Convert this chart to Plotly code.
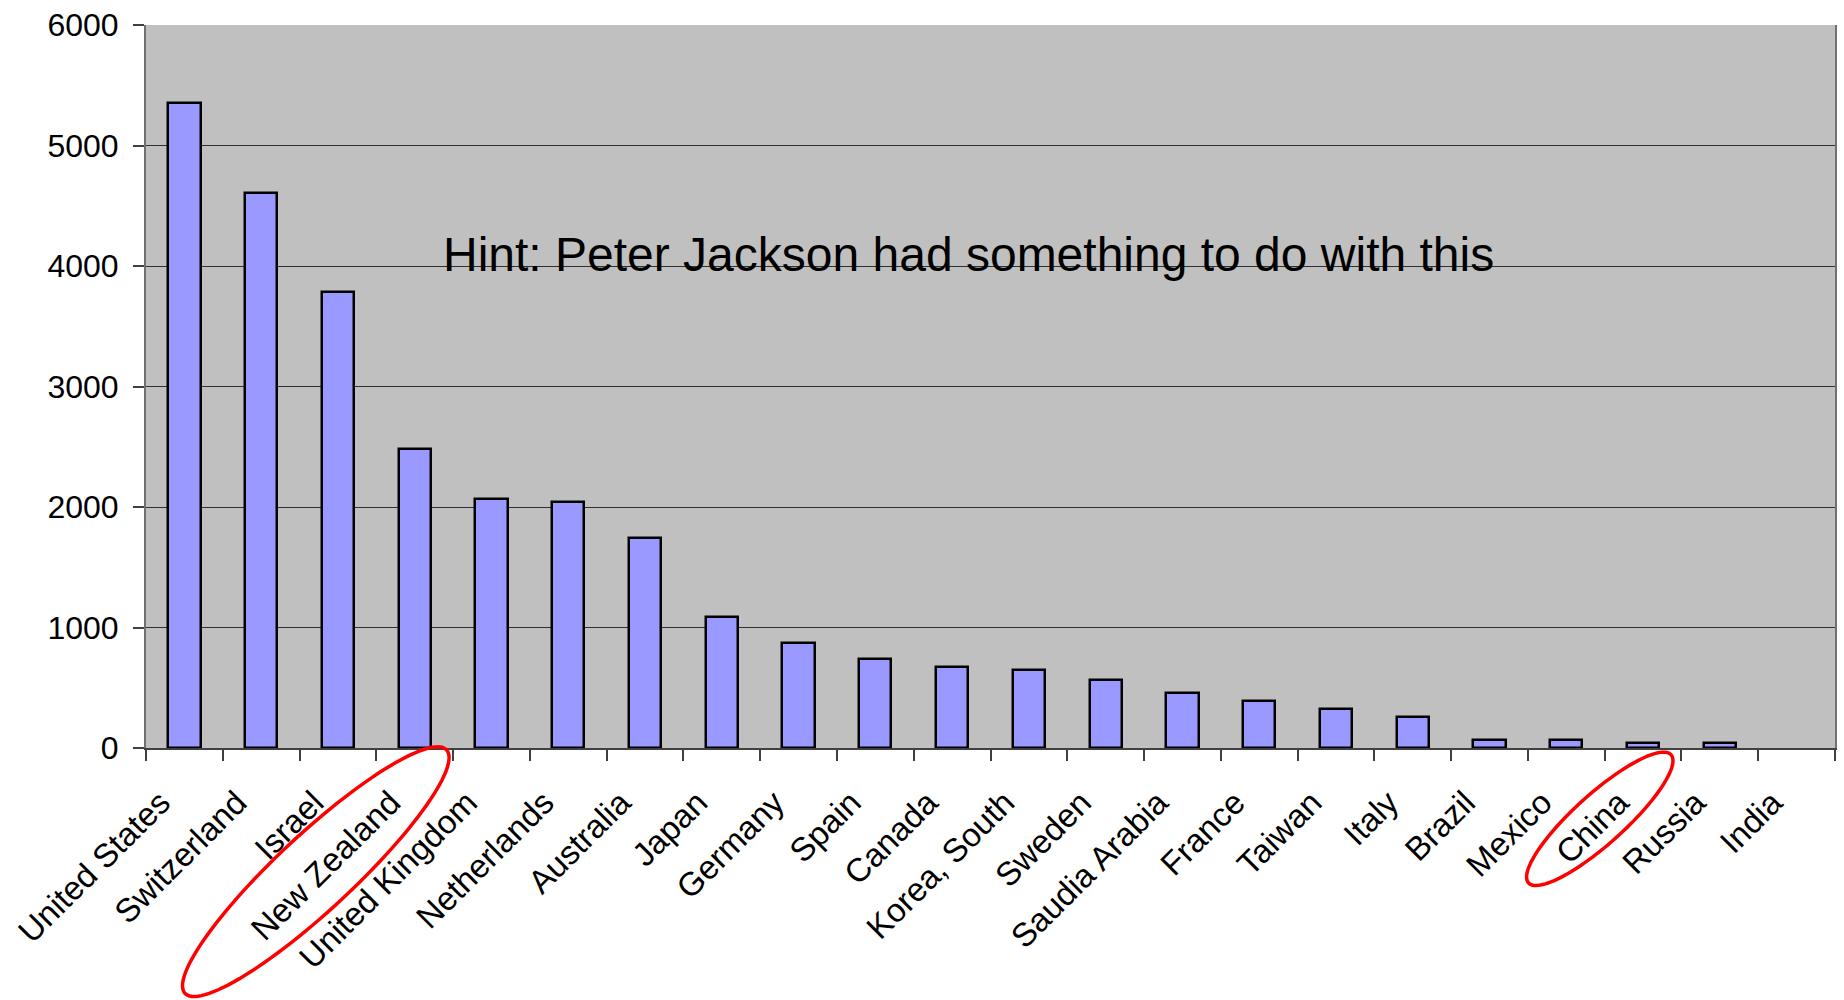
import numpy as np
import plotly.graph_objects as go

# Category labels (left to right) and bar heights
countries = [
    "United States", "Switzerland", "Israel", "New Zealand", "United Kingdom",
    "Netherlands", "Australia", "Japan", "Germany", "Spain", "Canada",
    "Korea, South", "Sweden", "Saudia Arabia", "France", "Taiwan", "Italy",
    "Brazil", "Mexico", "China", "Russia", "India",
]
values = [
    5350, 4610, 3785, 2480, 2065,
    2045, 1745, 1090, 870, 740, 670,
    650, 565, 455, 390, 325, 260,
    65, 65, 45, 45, 0,
]
y_ticks = [0, 1000, 2000, 3000, 4000, 5000, 6000]

W, H = 1844, 1000
M_L, M_R, M_T, M_B = 146, 7, 23, 252
PW, PH = W - M_L - M_R, H - M_T - M_B


def px_to_paper(px, py):
    return (px - M_L) / PW, (H - M_B - py) / PH


def ellipse_path(cx, cy, a, b, angle_deg, n=120):
    """Rotated ellipse given in pixel space, returned as an SVG path in paper units."""
    t = np.linspace(0, 2 * np.pi, n)
    th = np.deg2rad(angle_deg)
    xs = cx + a * np.cos(t) * np.cos(th) - b * np.sin(t) * np.sin(th)
    ys = cy - (a * np.cos(t) * np.sin(th) + b * np.sin(t) * np.cos(th))
    pts = [px_to_paper(x, y) for x, y in zip(xs, ys)]
    return "M " + " L ".join(f"{x:.5f},{y:.5f}" for x, y in pts) + " Z"


FONT = "Liberation Sans, Arial, sans-serif"

# empty categories get no outline so nothing is drawn for them
outline_widths = [2.5 if v > 0 else 0 for v in values]

fig = go.Figure(
    go.Bar(
        x=countries,
        y=values,
        width=0.42,
        marker=dict(color="#9999FF", line=dict(color="#000000", width=outline_widths)),
        hoverinfo="x+y",
    )
)

fig.update_layout(
    width=W,
    height=H,
    margin=dict(l=M_L, r=M_R, t=M_T, b=M_B, pad=0),
    paper_bgcolor="#FFFFFF",
    plot_bgcolor="#C0C0C0",
    showlegend=False,
    font=dict(family=FONT, size=32, color="#000000"),
    bargap=0,
)

fig.update_xaxes(
    type="category",
    range=[-0.5, len(countries) - 0.5],
    tickangle=-45,
    tickson="boundaries",
    ticks="outside",
    ticklen=11,
    tickwidth=1.5,
    tickcolor="#404040",
    ticklabelstandoff=20,
    ticklabelshift=-24,
    showline=True,
    linecolor="#404040",
    linewidth=2,
    mirror=False,
    showgrid=False,
    tickfont=dict(family=FONT, size=33, color="#000000"),
)

fig.update_yaxes(
    range=[0, 6000],
    tickvals=y_ticks,
    ticktext=[str(v) for v in y_ticks],
    ticks="outside",
    ticklen=11,
    tickwidth=1.5,
    tickcolor="#404040",
    ticklabelstandoff=8,
    showline=True,
    linecolor="#707070",
    linewidth=2,
    mirror=True,
    showgrid=True,
    gridcolor="#303030",
    gridwidth=1,
    zeroline=False,
    tickfont=dict(family=FONT, size=32, color="#000000"),
)

fig.add_annotation(
    text="Hint: Peter Jackson had something to do with this",
    xref="paper", yref="paper",
    x=px_to_paper(969.5, 0)[0], y=px_to_paper(0, 253)[1],
    xanchor="center", yanchor="middle",
    showarrow=False,
    font=dict(family=FONT, size=48, color="#000000"),
)

# Red rings drawn around two of the category labels
fig.add_shape(
    type="path", xref="paper", yref="paper",
    path=ellipse_path(316, 872, 179, 38, 43),
    line=dict(color="#FF0000", width=3.5),
)
fig.add_shape(
    type="path", xref="paper", yref="paper",
    path=ellipse_path(1601.5, 819, 96, 25, 42),
    line=dict(color="#FF0000", width=3.5),
)

fig.write_html("out.html")
